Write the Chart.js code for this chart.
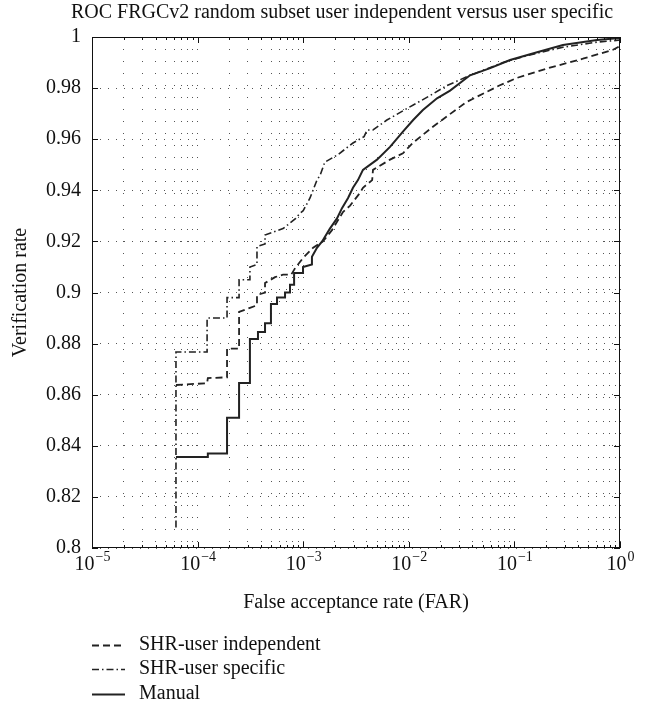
<!DOCTYPE html>
<html>
<head>
<meta charset="utf-8">
<script src="https://cdn.jsdelivr.net/npm/chart.js@4/dist/chart.umd.min.js"></script>
<style>
html, body { margin: 0; padding: 0; background: #fff; }
#wrap { width: 647px; height: 708px; position: relative; }
</style>
</head>
<body>
<div id="wrap"><canvas id="roc"></canvas></div>
<script>
const TITLE = 'ROC FRGCv2 random subset user independent versus user specific';
const X_LABEL = 'False acceptance rate (FAR)';
const Y_LABEL = 'Verification rate';
const X_DECADES = [-5, -4, -3, -2, -1, 0];
const X_MULTIPLIERS = [1, 2, 3, 4, 5, 6, 7, 8, 9];
const Y_TICKS = [0.8, 0.82, 0.84, 0.86, 0.88, 0.9, 0.92, 0.94, 0.96, 0.98, 1];

// SHR-user independent (dashed)
const indep_far = [6.24e-5, 1.23e-4, 1.25e-4, 1.9e-4, 1.9e-4, 2.47e-4, 2.47e-4, 3.13e-4, 3.65e-4, 3.65e-4,
    4.35e-4, 4.35e-4, 5.41e-4, 6.44e-4, 7.7e-4, 8.4e-4, 9.96e-4, 1.24e-3, 1.54e-3, 1.88e-3,
    2.38e-3, 2.78e-3, 3.45e-3, 3.68e-3, 4.5e-3, 4.58e-3, 6.64e-3, 8.8e-3, 1.09e-2, 1.68e-2,
    3.5e-2, 7.2e-2, 0.106, 0.217, 0.445, 0.86, 1.0];
const indep_vr = [0.8638, 0.8645, 0.8665, 0.8668, 0.878, 0.878, 0.8924, 0.894, 0.895, 0.899,
    0.900, 0.9037, 0.906, 0.907, 0.907, 0.9096, 0.9135, 0.9175, 0.920, 0.9245,
    0.9315, 0.934, 0.939, 0.941, 0.944, 0.948, 0.952, 0.9545, 0.9585, 0.9648,
    0.9745, 0.981, 0.984, 0.988, 0.9915, 0.995, 0.9965];

// SHR-user specific (dash-dot)
const spec_far = [6.24e-5, 6.24e-5, 1.23e-4, 1.23e-4, 1.9e-4, 1.9e-4, 2.47e-4, 2.47e-4, 3.13e-4, 3.13e-4,
    3.65e-4, 3.65e-4, 4.35e-4, 4.35e-4, 6.44e-4, 8.5e-4, 9.3e-4, 1.0e-3, 1.16e-3, 1.35e-3,
    1.45e-3, 1.6e-3, 2.14e-3, 2.96e-3, 3.77e-3, 4.03e-3, 4.58e-3, 6.2e-3, 9.6e-3, 1.58e-2,
    2.3e-2, 3.8e-2, 7.8e-2, 0.14, 0.288, 0.605, 1.0];
const spec_vr = [0.808, 0.8767, 0.8767, 0.890, 0.890, 0.898, 0.898, 0.905, 0.905, 0.910,
    0.911, 0.918, 0.919, 0.9225, 0.925, 0.929, 0.931, 0.932, 0.937, 0.944,
    0.946, 0.951, 0.954, 0.9585, 0.961, 0.9636, 0.9636, 0.9675, 0.972, 0.977,
    0.981, 0.985, 0.990, 0.993, 0.996, 0.998, 0.9988];

// Manual (solid)
const manual_far = [6.24e-5, 1.23e-4, 1.25e-4, 1.9e-4, 1.9e-4, 2.47e-4, 2.47e-4, 3.13e-4, 3.13e-4, 3.73e-4,
    3.73e-4, 4.35e-4, 4.35e-4, 4.95e-4, 4.95e-4, 5.65e-4, 5.65e-4, 6.73e-4, 6.73e-4, 7.5e-4,
    7.5e-4, 8.2e-4, 8.2e-4, 9.96e-4, 9.96e-4, 1.21e-3, 1.21e-3, 1.35e-3, 1.51e-3, 1.79e-3,
    2.09e-3, 2.33e-3, 2.66e-3, 2.96e-3, 3.3e-3, 3.68e-3, 5.0e-3, 6.64e-3, 8.8e-3, 1.1e-2,
    1.36e-2, 1.85e-2, 2.46e-2, 3.8e-2, 5.9e-2, 9.1e-2, 0.164, 0.288, 0.605, 1.0];
const manual_vr = [0.8356, 0.8356, 0.837, 0.837, 0.851, 0.851, 0.8646, 0.8646, 0.8818, 0.8818,
    0.8845, 0.8845, 0.888, 0.888, 0.8955, 0.8955, 0.898, 0.898, 0.900, 0.900,
    0.903, 0.903, 0.9076, 0.9076, 0.910, 0.911, 0.914, 0.9175, 0.920, 0.925,
    0.929, 0.933, 0.937, 0.941, 0.944, 0.948, 0.952, 0.957, 0.963, 0.9675,
    0.9714, 0.976, 0.979, 0.985, 0.9878, 0.991, 0.994, 0.9969, 0.9988, 0.9996];

const SERIF = "'Liberation Serif', 'DejaVu Serif', serif";
const INK = '#222';
const FONT_SIZE = 20;

function to_points(xs, ys) {
    return xs.map((x, i) => ({ x, y: ys[i] }));
}

function build_x_ticks() {
    const ticks = [];
    X_DECADES.forEach((d, i) => {
        X_MULTIPLIERS.forEach(m => {
            if (i === X_DECADES.length - 1 && m > 1) return;
            ticks.push({ value: m * Math.pow(10, d), major: m === 1 });
        });
    });
    return ticks;
}

const datasets = [
    { label: 'SHR-user independent', data: to_points(indep_far, indep_vr), borderDash: [7, 4], borderWidth: 1.8 },
    { label: 'SHR-user specific', data: to_points(spec_far, spec_vr), borderDash: [7, 3, 1.5, 3], borderWidth: 1.6 },
    { label: 'Manual', data: to_points(manual_far, manual_vr), borderDash: [], borderWidth: 2 },
].map(ds => ({ ...ds, borderColor: INK, pointRadius: 0, tension: 0, fill: false }));

const decor_plugin = {
    id: 'decor',
    afterDraw(chart) {
        const { ctx, chartArea: a, scales } = chart;
        ctx.save();

        // box
        ctx.strokeStyle = '#111';
        ctx.lineWidth = 1;
        ctx.setLineDash([]);
        ctx.strokeRect(a.left + 0.5, a.top + 0.5, a.right - a.left - 1, a.bottom - a.top - 1);

        // inward ticks
        ctx.beginPath();
        for (const t of scales.x.ticks) {
            const px = Math.round(scales.x.getPixelForValue(t.value)) + 0.5;
            const len = t.major ? 6 : 3;
            ctx.moveTo(px, a.bottom); ctx.lineTo(px, a.bottom - len);
            ctx.moveTo(px, a.top); ctx.lineTo(px, a.top + len);
        }
        for (const v of Y_TICKS) {
            const py = Math.round(scales.y.getPixelForValue(v)) + 0.5;
            ctx.moveTo(a.left, py); ctx.lineTo(a.left + 6, py);
            ctx.moveTo(a.right, py); ctx.lineTo(a.right - 6, py);
        }
        ctx.stroke();

        ctx.fillStyle = '#111';
        const mid = (a.left + a.right) / 2;
        const main_font = FONT_SIZE + 'px ' + SERIF;
        const sup_font = '14px ' + SERIF;

        // title
        ctx.font = main_font;
        ctx.textAlign = 'center';
        ctx.textBaseline = 'middle';
        ctx.fillText(TITLE, 342, 13);

        // x tick labels with superscript exponents
        for (const d of X_DECADES) {
            const px = scales.x.getPixelForValue(Math.pow(10, d));
            const base = '10';
            const exp = d === 0 ? '0' : '\u2212' + Math.abs(d);
            ctx.font = main_font;
            const wb = ctx.measureText(base).width;
            ctx.font = sup_font;
            const we = ctx.measureText(exp).width;
            const x0 = px - (wb + we) / 2;
            ctx.textAlign = 'left';
            ctx.textBaseline = 'alphabetic';
            ctx.font = main_font;
            ctx.fillText(base, x0, a.bottom + 22);
            ctx.font = sup_font;
            ctx.fillText(exp, x0 + wb + 1, a.bottom + 13);
        }

        // axis titles
        ctx.font = main_font;
        ctx.textAlign = 'center';
        ctx.textBaseline = 'middle';
        ctx.fillText(X_LABEL, mid, 603);
        ctx.save();
        ctx.translate(21, (a.top + a.bottom) / 2);
        ctx.rotate(-Math.PI / 2);
        ctx.fillText(Y_LABEL, 0, 0);
        ctx.restore();

        // legend
        const rows = [645, 669, 694];
        chart.data.datasets.forEach((ds, i) => {
            const y = rows[i] + 0.5;
            ctx.strokeStyle = INK;
            ctx.lineWidth = ds.borderWidth;
            ctx.setLineDash(ds.borderDash);
            ctx.beginPath();
            ctx.moveTo(92, y); ctx.lineTo(125, y);
            ctx.stroke();
            ctx.setLineDash([]);
            ctx.textAlign = 'left';
            ctx.fillText(ds.label, 139, rows[i]);
        });

        ctx.restore();
    }
};

new Chart(document.getElementById('roc'), {
    type: 'line',
    data: { datasets },
    plugins: [decor_plugin],
    options: {
        responsive: true,
        maintainAspectRatio: false,
        animation: false,
        layout: { padding: { top: 37, right: 27, left: 0, bottom: 0 } },
        plugins: { legend: { display: false }, title: { display: false }, tooltip: { enabled: false } },
        scales: {
            x: {
                type: 'logarithmic',
                min: 1e-5,
                max: 1,
                afterBuildTicks: scale => { scale.ticks = build_x_ticks(); },
                afterFit: scale => { scale.height = 160; },
                ticks: { display: false, autoSkip: false },
                grid: { color: '#555', lineWidth: 1, drawTicks: false },
                border: { display: false, dash: [1, 11] },
            },
            y: {
                type: 'linear',
                min: 0.8,
                max: 1,
                afterBuildTicks: scale => { scale.ticks = Y_TICKS.map(v => ({ value: v })); },
                afterFit: scale => { scale.width = 92; },
                ticks: {
                    padding: 11,
                    color: '#111',
                    font: { family: SERIF, size: FONT_SIZE },
                    callback: v => String(+v.toFixed(2)),
                },
                grid: { color: '#555', lineWidth: 1, drawTicks: false },
                border: { display: false, dash: [1, 7] },
            },
        },
    },
});
</script>
